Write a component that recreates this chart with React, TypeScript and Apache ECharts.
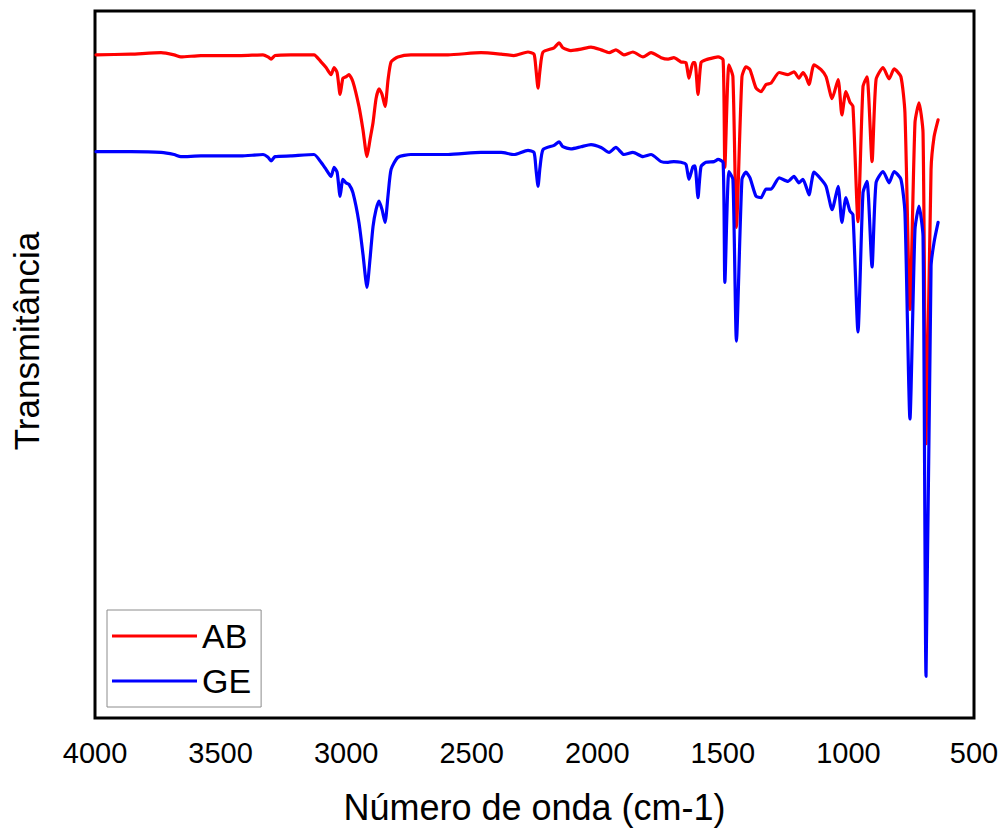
import React, { useEffect, useRef } from "react";
import * as echarts from "echarts";

// Wavenumbers (cm-1)
const wavenumbers: number[] = [
  3996, 3857, 3737, 3685, 3658, 3578, 3419, 3331, 3311, 3299,
  3283, 3220, 3128, 3100, 3080, 3060, 3048, 3036, 3024, 3013,
  3001, 2989, 2973, 2949, 2933, 2917, 2905, 2893, 2881, 2869,
  2857, 2845, 2833, 2821, 2794, 2742, 2594, 2463, 2383, 2332,
  2276, 2252, 2244, 2236, 2228, 2216, 2172, 2152, 2137, 2105,
  2065, 2025, 1985, 1953, 1926, 1894, 1858, 1818, 1786, 1746,
  1718, 1695, 1667, 1647, 1635, 1619, 1611, 1599, 1587, 1567,
  1535, 1519, 1499, 1492, 1476, 1460, 1446, 1424, 1408, 1392,
  1368, 1348, 1328, 1308, 1276, 1241, 1217, 1197, 1181, 1169,
  1157, 1137, 1109, 1089, 1065, 1041, 1026, 1010, 994, 982,
  962, 942, 926, 906, 890, 862, 838, 818, 791, 775,
  755, 735, 719, 703, 691, 671, 659, 643,
];

// Transmittance (a.u.) of sample AB
const abValues: number[] = [
  93.8, 93.9, 94.1, 93.8, 93.5, 93.7, 93.7, 93.8, 93.5, 93.2,
  93.7, 93.8, 93.8, 92.8, 92.0, 91.0, 92.0, 91.3, 88.2, 90.5,
  90.7, 91.0, 90.0, 86.5, 83.2, 79.4, 81.8, 84.2, 87.6, 89.0,
  88.2, 86.5, 90.3, 92.8, 93.5, 93.8, 93.8, 94.1, 93.9, 93.7,
  94.2, 93.9, 91.7, 89.1, 91.7, 94.2, 94.8, 95.5, 94.8, 94.4,
  94.6, 94.9, 94.5, 94.1, 94.5, 93.8, 94.2, 93.5, 94.1, 93.4,
  93.2, 93.4, 92.8, 92.7, 90.5, 92.7, 92.7, 88.2, 92.7, 93.1,
  93.4, 93.5, 93.1, 77.9, 92.4, 90.7, 69.4, 90.7, 92.1, 91.7,
  89.1, 88.6, 89.6, 89.8, 91.3, 91.0, 91.4, 90.5, 91.3, 90.7,
  89.6, 92.4, 91.7, 90.7, 87.6, 90.3, 85.3, 88.6, 87.1, 86.5,
  70.2, 89.3, 90.7, 78.7, 90.3, 92.0, 90.4, 91.8, 90.7, 85.6,
  57.8, 84.2, 87.0, 82.8, 38.8, 77.6, 82.2, 84.6,
];

// Transmittance (a.u.) of sample GE
const geValues: number[] = [
  80.1, 80.1, 80.0, 79.7, 79.4, 79.5, 79.5, 79.7, 79.3, 78.8,
  79.4, 79.5, 79.7, 78.6, 77.6, 76.6, 77.9, 77.2, 73.8, 76.2,
  75.7, 75.5, 74.3, 70.1, 65.6, 60.9, 64.9, 69.5, 71.9, 73.1,
  71.9, 70.1, 74.0, 77.6, 79.3, 79.7, 79.7, 80.0, 80.0, 79.7,
  80.3, 80.0, 77.6, 75.2, 77.9, 80.4, 81.0, 81.5, 80.8, 80.5,
  80.8, 81.1, 80.7, 80.0, 80.7, 79.7, 80.0, 79.4, 79.7, 78.7,
  78.6, 78.7, 78.6, 78.3, 76.2, 78.0, 78.1, 73.6, 78.0, 78.6,
  78.7, 79.0, 78.6, 61.6, 77.3, 76.2, 53.3, 76.2, 77.2, 76.4,
  73.8, 73.6, 74.8, 74.8, 76.4, 75.9, 76.6, 75.7, 76.2, 75.2,
  74.0, 77.2, 76.2, 75.2, 71.9, 75.2, 70.1, 73.6, 71.7, 71.2,
  54.6, 74.3, 75.9, 63.8, 75.7, 77.3, 75.7, 77.3, 76.2, 71.5,
  42.3, 69.1, 72.4, 68.1, 5.9, 63.9, 67.3, 70.1,
];

const seriesNames: string[] = ["AB", "GE"];
const seriesColors: string[] = ["#ff0000", "#0000ff"];

const FONT = "'Liberation Sans', Arial, sans-serif";

function pairs(vals: number[]): number[][] {
  const n = Math.min(wavenumbers.length, vals.length);
  const out: number[][] = [];
  for (let i = 0; i < n; i++) out.push([wavenumbers[i], vals[i]]);
  return out;
}

export default function App() {
  const ref = useRef<HTMLDivElement>(null);

  useEffect(() => {
    if (!ref.current) return;
    const chart = echarts.init(ref.current, undefined, { renderer: "svg" });
    const lineStyleFor = (c: string) => ({ color: c, width: 3.2, cap: "round", join: "round" });
    chart.setOption({
      animation: false,
      backgroundColor: "#ffffff",
      grid: {
        left: 95,
        right: 29,
        top: 11,
        bottom: 110,
        show: true,
        borderColor: "#000",
        borderWidth: 3,
        backgroundColor: "transparent",
      },
      xAxis: {
        type: "value",
        min: 500,
        max: 4000,
        interval: 500,
        inverse: true,
        axisLine: { show: false },
        axisTick: { show: false },
        splitLine: { show: false },
        axisLabel: {
          color: "#000",
          fontSize: 29,
          fontFamily: FONT,
          margin: 20,
          formatter: (v: number) => String(v),
        },
        name: "Número de onda (cm-1)",
        nameLocation: "middle",
        nameGap: 71,
        nameTextStyle: { color: "#000", fontSize: 36, fontFamily: FONT },
      },
      yAxis: {
        type: "value",
        min: 0,
        max: 100,
        axisLine: { show: false },
        axisTick: { show: false },
        splitLine: { show: false },
        axisLabel: { show: false },
      },
      legend: {
        data: seriesNames,
        orient: "vertical",
        left: 107,
        top: 610,
        icon: "rect",
        itemWidth: 85,
        itemHeight: 3,
        itemGap: 5,
        padding: [6, 10, 6, 5],
        backgroundColor: "#fff",
        borderColor: "#8c8c8c",
        borderWidth: 1,
        textStyle: { color: "#000", fontSize: 34, fontFamily: FONT, lineHeight: 40 },
      },
      graphic: [
        {
          type: "text",
          x: 26,
          y: 341,
          rotation: Math.PI / 2,
          style: {
            text: "Transmitância",
            fill: "#000",
            font: `35px ${FONT}`,
            align: "center",
            verticalAlign: "middle",
          },
        },
      ],
      series: [
        {
          name: seriesNames[0],
          type: "line",
          data: pairs(abValues),
          symbol: "none",
          showSymbol: false,
          smooth: 0.2,
          color: seriesColors[0],
          lineStyle: lineStyleFor(seriesColors[0]),
          z: 2,
        },
        {
          name: seriesNames[1],
          type: "line",
          data: pairs(geValues),
          symbol: "none",
          showSymbol: false,
          smooth: 0.2,
          color: seriesColors[1],
          lineStyle: lineStyleFor(seriesColors[1]),
          z: 3,
        },
      ],
    });
    return () => chart.dispose();
  }, []);

  return (
    <div
      ref={ref}
      style={{ position: "fixed", left: 0, top: 0, width: 1003, height: 830, background: "#fff" }}
    />
  );
}
